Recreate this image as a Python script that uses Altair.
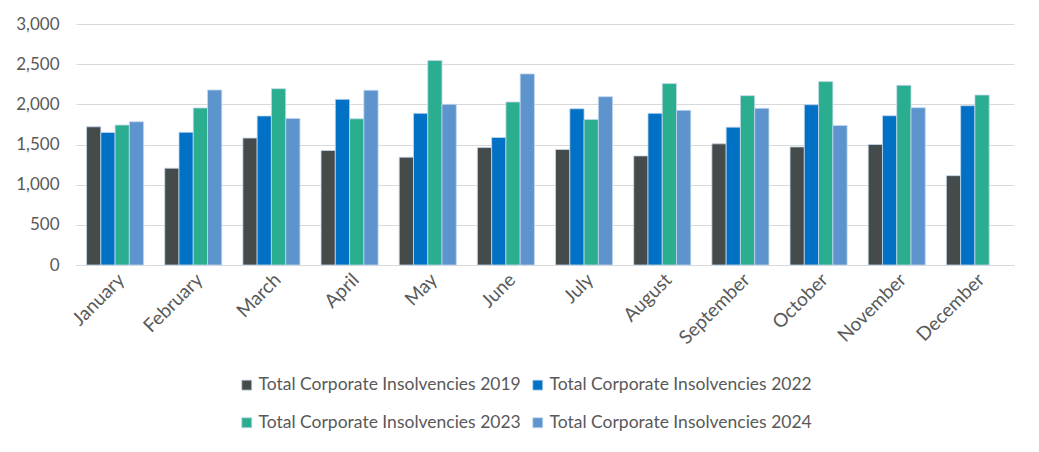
import altair as alt
import pandas as pd

months = ["January", "February", "March", "April", "May", "June",
          "July", "August", "September", "October", "November", "December"]
series = ["Total Corporate Insolvencies 2019", "Total Corporate Insolvencies 2022",
          "Total Corporate Insolvencies 2023", "Total Corporate Insolvencies 2024"]
v2019 = [1720, 1205, 1580, 1425, 1342, 1462, 1437, 1358, 1508, 1470, 1500, 1112]
v2022 = [1650, 1652, 1855, 2062, 1888, 1587, 1945, 1888, 1716, 1995, 1858, 1983]
v2023 = [1742, 1955, 2195, 1820, 2545, 2029, 1812, 2258, 2108, 2283, 2237, 2116]
v2024 = [1783, 2179, 1825, 2175, 2000, 2379, 2095, 1925, 1950, 1737, 1958, None]
colors = ["#454a4b", "#0071c5", "#2aae8f", "#5e94ce"]

rows = []
for s, vals in zip(series, [v2019, v2022, v2023, v2024]):
    for m, v in zip(months, vals):
        if v is not None:
            rows.append({"Month": m, "Series": s, "Value": v})
df = pd.DataFrame(rows)

chart = alt.Chart(df).mark_bar(stroke="#c3d8ec", strokeWidth=0.8).encode(
    x=alt.X("Month:N", sort=months, title=None,
            scale=alt.Scale(paddingInner=0.27, paddingOuter=0.135),
            axis=alt.Axis(labelAngle=-45, ticks=False, domain=True, domainColor="#d9d9d9",
                          labelFontSize=19, labelPadding=5)),
    xOffset=alt.XOffset("Series:N", sort=series, scale=alt.Scale(paddingInner=0)),
    y=alt.Y("Value:Q", title=None,
            scale=alt.Scale(domain=[0, 3000]),
            axis=alt.Axis(values=[0, 500, 1000, 1500, 2000, 2500, 3000], format=",.0f",
                          ticks=False, domain=False, gridColor="#d9d9d9",
                          labelFontSize=17, labelPadding=17)),
    color=alt.Color("Series:N", sort=series,
                    scale=alt.Scale(domain=series, range=colors),
                    legend=alt.Legend(title=None, orient="none", legendX=162, legendY=352,
                                      direction="horizontal", columns=2, columnPadding=8,
                                      rowPadding=19, symbolType="square", symbolSize=100,
                                      symbolStrokeColor="#c3d8ec", symbolStrokeWidth=0.8,
                                      labelFontSize=17.5, labelLimit=400, padding=0,
                                      labelOffset=3)),
).properties(
    width=938, height=241,
    autosize=alt.AutoSizeParams(type="none"),
    padding={"left": 68, "top": 16, "right": 17, "bottom": 171},
).configure(
    font="Lato",
).configure_axis(
    labelColor="#595959", labelFont="Lato",
).configure_legend(
    labelColor="#595959", labelFont="Lato",
).configure_view(
    stroke=None,
)

chart.save("out.html", embed_options={"renderer": "svg", "actions": False})
